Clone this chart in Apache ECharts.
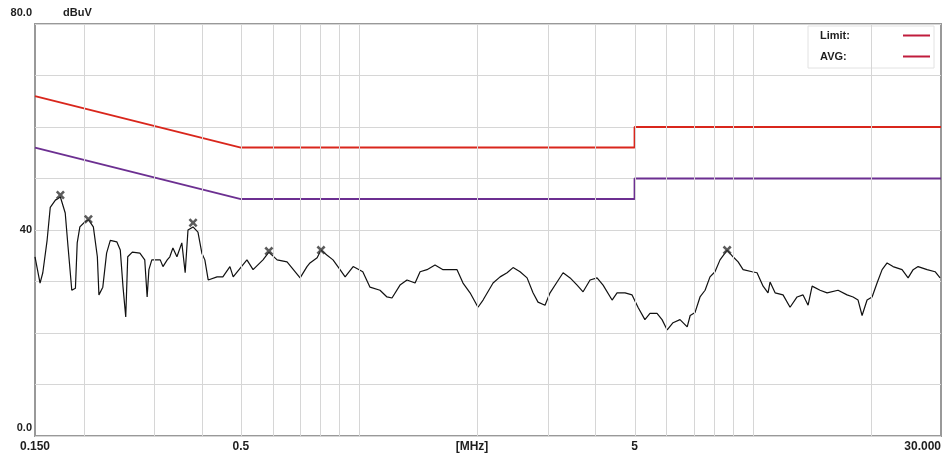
<!DOCTYPE html>
<html>
<head>
<meta charset="utf-8">
<title>Conducted emission scan</title>
<script src="https://cdn.jsdelivr.net/npm/echarts@6/dist/echarts.min.js"></script>
<style>
  html, body { margin: 0; padding: 0; background: #fff; }
  #chart { width: 949px; height: 454px; }
</style>
</head>
<body>
<div id="chart"></div>
<script>
const freqMHz = [
  0.150, 0.1545, 0.157, 0.161, 0.164, 0.169, 0.174, 0.179, 0.182, 0.186,
  0.190, 0.192, 0.195, 0.201, 0.205, 0.211, 0.216, 0.218, 0.223, 0.228,
  0.233, 0.242, 0.247, 0.251, 0.255, 0.258, 0.265, 0.277, 0.285, 0.289,
  0.292, 0.297, 0.312, 0.317, 0.325, 0.330, 0.336, 0.344, 0.354, 0.361,
  0.367, 0.378, 0.389, 0.398, 0.405, 0.413, 0.435, 0.450, 0.469, 0.478,
  0.518, 0.537, 0.569, 0.589, 0.618, 0.655, 0.707, 0.736, 0.749, 0.781,
  0.799, 0.828, 0.857, 0.893, 0.920, 0.964, 1.02, 1.064, 1.128, 1.175,
  1.210, 1.268, 1.321, 1.385, 1.426, 1.485, 1.556, 1.631, 1.770, 1.833,
  1.910, 2.001, 2.061, 2.185, 2.277, 2.372, 2.456, 2.559, 2.666, 2.760,
  2.842, 2.961, 3.049, 3.177, 3.291, 3.429, 3.572, 3.699, 3.853, 4.014,
  4.158, 4.383, 4.512, 4.728, 4.926, 5.10, 5.31, 5.47, 5.70, 5.87,
  6.05, 6.26, 6.52, 6.80, 6.92, 7.12, 7.33, 7.55, 7.77, 8.00,
  8.24, 8.59, 8.89, 9.16, 9.43, 9.94, 10.23, 10.60, 10.91, 11.04,
  11.37, 11.91, 12.41, 12.93, 13.39, 13.79, 14.12, 14.79, 15.41, 16.43,
  17.32, 17.94, 18.47, 18.91, 19.47, 20.05, 20.64, 21.26, 21.89, 22.66,
  23.89, 24.75, 25.49, 26.24, 27.66, 28.98, 29.84
]
const levelDb = [
  34.8, 29.7, 31.7, 38.0, 44.4, 45.8, 46.4, 43.3, 36.7, 28.3,
  28.7, 37.5, 40.6, 41.6, 42.0, 40.6, 34.8, 27.4, 28.9, 35.5,
  38.0, 37.7, 36.1, 28.9, 23.1, 34.8, 35.7, 35.5, 34.2, 27.0,
  32.3, 34.2, 34.2, 32.9, 34.2, 34.8, 36.5, 34.8, 37.5, 31.7,
  40.0, 40.6, 39.6, 35.5, 34.2, 30.3, 30.9, 30.9, 32.9, 30.9,
  34.2, 32.3, 34.2, 35.7, 34.2, 33.8, 30.7, 32.9, 33.6, 34.6,
  36.1, 35.1, 34.2, 32.3, 30.9, 32.9, 31.9, 28.9, 28.3, 27.0,
  26.8, 29.3, 30.3, 29.7, 31.9, 32.3, 33.2, 32.3, 32.3, 29.7,
  27.8, 25.0, 26.4, 29.7, 30.9, 31.7, 32.7, 31.9, 30.7, 27.8,
  26.0, 25.4, 27.8, 29.9, 31.7, 30.7, 29.3, 28.0, 30.3, 30.7,
  29.3, 26.4, 27.8, 27.8, 27.4, 25.0, 22.6, 23.8, 23.8, 22.6,
  20.6, 22.0, 22.6, 21.2, 23.4, 24.0, 27.0, 28.3, 30.9, 31.9,
  34.2, 36.1, 34.8, 33.8, 32.3, 31.9, 31.7, 29.1, 27.8, 29.9,
  27.8, 27.4, 25.0, 27.0, 27.4, 25.4, 29.1, 28.3, 27.8, 28.3,
  27.4, 27.0, 26.4, 23.4, 26.4, 27.0, 29.7, 32.3, 33.6, 32.9,
  32.3, 30.7, 32.3, 32.9, 32.3, 31.9, 30.7
]

// peaks marked with an x
const peakFreq = [0.174, 0.205, 0.378, 0.589, 0.799, 8.59]
const peakDb = [46.8, 42.1, 41.4, 35.9, 36.1, 36.1]

// limit lines
const limitFreq = [0.15, 0.5, 5, 5, 30]
const limitQp = [66, 56, 56, 60, 60]
const limitAvg = [56, 46, 46, 50, 50]

// axis ticks
const gridFreq = [0.2, 0.3, 0.4, 0.5, 0.6, 0.7, 0.8, 0.9, 1, 2, 3, 4, 5, 6, 7, 8, 9, 10, 20]
const xTickFreq = [0.15, 0.5, 5, 30]
const xTickText = ['0.150', '0.5', '5', '30.000']
const yTickDb = [0, 40, 80]
const yTickText = ['0.0', '40', '80.0']

const lg = Math.log10
const pairs = (xs, ys) => xs.map((f, i) => [lg(f), ys[i]])

const FONT = 'Liberation Sans'
const txt = { fontFamily: FONT, fontWeight: 'bold', fontSize: 11, color: '#1e1e1e' }

const chart = echarts.init(document.getElementById('chart'))
chart.setOption({
  backgroundColor: '#fff',
  animation: false,
  // unit of the y axis, sits next to the 80.0 label
  title: { text: 'dBuV', left: 58, top: 2, textStyle: txt },
  grid: { left: 35, right: 8, top: 24, bottom: 18, show: true, borderColor: '#999', borderWidth: 2, outerBoundsMode: 'none' },
  legend: {
    left: 808, top: 26, orient: 'vertical', align: 'right',
    data: [
      { name: 'Limit', itemStyle: { color: '#c01c3c' } },
      { name: 'AVG', itemStyle: { color: '#c01c3c' } }
    ],
    icon: 'rect', itemWidth: 27, itemHeight: 2, itemGap: 10,
    backgroundColor: '#fff', borderColor: '#e2e2e2', borderWidth: 1,
    padding: [4, 4, 6, 12],
    formatter: n => '{t|' + n + ':}',
    textStyle: Object.assign({}, txt, { rich: { t: { width: 78, align: 'left' } } })
  },
  xAxis: {
    type: 'value', min: lg(0.15), max: lg(30),
    name: '[MHz]', nameLocation: 'middle', nameGap: 5, nameMoveOverlap: false,
    nameTextStyle: Object.assign({}, txt, { fontSize: 12, padding: [0, 32, 0, 0] }),
    axisLine: { show: false }, axisTick: { show: false }, splitLine: { show: false },
    axisLabel: Object.assign({}, txt, {
      fontSize: 12, margin: 5,
      customValues: xTickFreq.map(lg),
      alignMaxLabel: 'right',
      formatter: v => {
        const i = xTickFreq.findIndex(f => Math.abs(lg(f) - v) < 1e-6)
        return i < 0 ? '' : xTickText[i]
      }
    })
  },
  yAxis: {
    type: 'value', min: 0, max: 80, interval: 10,
    axisLine: { show: false }, axisTick: { show: false },
    splitLine: { lineStyle: { color: '#d6d6d6', width: 1 } },
    axisLabel: Object.assign({}, txt, {
      margin: 3,
      customValues: yTickDb,
      formatter: v => {
        const i = yTickDb.indexOf(v)
        const key = v === 80 ? 'top' : (v === 0 ? 'bot' : 'mid')
        return '{' + key + '|' + yTickText[i] + '}'
      },
      rich: {
        top: { padding: [0, 0, 22, 0] },
        bot: { padding: [0, 0, 16, 0] },
        mid: {}
      }
    })
  },
  series: [
    {
      // vertical log grid lines
      name: 'grid', type: 'line', data: [], z: 1, silent: true,
      markLine: {
        silent: true, symbol: ['none', 'none'], label: { show: false },
        lineStyle: { color: '#d6d6d6', type: 'solid', width: 1 },
        emphasis: { disabled: true },
        data: gridFreq.map(f => ({ xAxis: lg(f) }))
      }
    },
    {
      name: 'Limit', type: 'line', z: 3, symbol: 'none', silent: true,
      data: pairs(limitFreq, limitQp),
      lineStyle: { color: '#d9261c', width: 2 }, itemStyle: { color: '#d9261c' }
    },
    {
      name: 'AVG', type: 'line', z: 3, symbol: 'none', silent: true,
      data: pairs(limitFreq, limitAvg),
      lineStyle: { color: '#6c2f91', width: 2 }, itemStyle: { color: '#6c2f91' }
    },
    {
      name: 'trace', type: 'line', z: 4, symbol: 'none', silent: true,
      data: pairs(freqMHz, levelDb),
      lineStyle: { color: '#111', width: 1.2 }
    },
    {
      name: 'peaks', type: 'scatter', z: 5, silent: true,
      symbol: 'path://M2,0L5,3L8,0L10,2L7,5L10,8L8,10L5,7L2,10L0,8L3,5L0,2Z',
      symbolSize: 9,
      itemStyle: { color: '#333' },
      data: pairs(peakFreq, peakDb)
    }
  ]
})
</script>
</body>
</html>
